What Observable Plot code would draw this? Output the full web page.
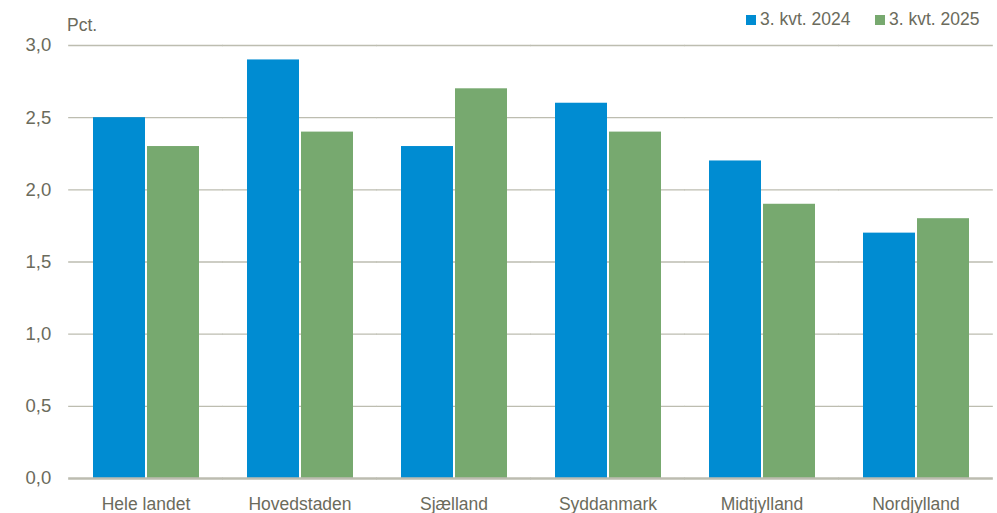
<!DOCTYPE html>
<html>
<head>
<meta charset="utf-8">
<script src="https://cdn.jsdelivr.net/npm/d3@7"></script>
<script src="https://cdn.jsdelivr.net/npm/@observablehq/plot@0.6"></script>
<style>
  html, body { margin: 0; padding: 0; background: #fff; }
  #wrap { position: relative; width: 997px; height: 513px; font-family: "Liberation Sans", Arial, sans-serif; color: #6b6b5c; }
  #legend { position: absolute; top: 9px; left: 746px; display: flex; gap: 0; font-size: 17.5px; }
  #legend span.item { display: flex; align-items: center; gap: 4px; width: 129px; }
  #legend span.sw { display: inline-block; width: 10px; height: 10px; }
  #pct { position: absolute; left: 67px; top: 15px; font-size: 17.5px; }
</style>
</head>
<body>
<div id="wrap">
  <div id="chart"></div>
  <div id="pct">Pct.</div>
  <div id="legend"></div>
</div>
<script>
const regions = ["Hele landet", "Hovedstaden", "Sjælland", "Syddanmark", "Midtjylland", "Nordjylland"];
const seriesNames = ["3. kvt. 2024", "3. kvt. 2025"];
const values2024 = [2.5, 2.9, 2.3, 2.6, 2.2, 1.7];
const values2025 = [2.3, 2.4, 2.7, 2.4, 1.9, 1.8];
const colors = ["#008cd2", "#77a96f"];
const yTicks = [0, 0.5, 1.0, 1.5, 2.0, 2.5, 3.0];

const data = [];
regions.forEach((r, i) => {
  data.push({region: r, series: seriesNames[0], value: values2024[i]});
  data.push({region: r, series: seriesNames[1], value: values2025[i]});
});

const fmt = d => d.toFixed(1).replace(".", ",");

const W = 997, ML = 69, MR = 4, PI = 0.29;
const step = (W - ML - MR) / regions.length;
const halfGap = (step * PI) / 2;
const gapInset = -halfGap - 0.5;

const chart = Plot.plot({
  width: W,
  height: 513,
  marginLeft: ML,
  marginRight: MR,
  marginTop: 45,
  marginBottom: 35,
  style: {fontFamily: '"Liberation Sans", Arial, sans-serif', fontSize: "17.5px", color: "#6b6b5c", background: "#fff"},
  fx: {domain: regions, paddingInner: PI, paddingOuter: PI / 2, label: null, axis: null},
  x: {domain: seriesNames, padding: 0, axis: null},
  y: {domain: [0, 3], ticks: yTicks, label: null, axis: null},
  color: {domain: seriesNames, range: colors},
  marks: [
    Plot.ruleY(yTicks.filter(d => d > 0), {stroke: "#bdbdb0", strokeWidth: 1.3, insetLeft: gapInset, insetRight: gapInset}),
    Plot.axisY(yTicks, {anchor: "left", tickFormat: fmt, tickSize: 0, tickPadding: 18 + halfGap, fontSize: 18.5, fill: "#6b6b5c", label: null}),
    Plot.axisFx({anchor: "bottom", tickSize: 0, tickPadding: 19, fontSize: 17.5, fill: "#6b6b5c", label: null}),
    Plot.barY(data, {fx: "region", x: "series", y: "value", fill: "series", insetLeft: 1, insetRight: 1}),
    Plot.ruleY([0], {stroke: "#bcbcb0", strokeWidth: 2.5, insetLeft: gapInset, insetRight: gapInset})
  ]
});
document.getElementById("chart").appendChild(chart);

const legend = document.getElementById("legend");
seriesNames.forEach((s, i) => {
  const item = document.createElement("span");
  item.className = "item";
  const sw = document.createElement("span");
  sw.className = "sw";
  sw.style.background = colors[i];
  item.appendChild(sw);
  item.appendChild(document.createTextNode(s));
  legend.appendChild(item);
});
</script>
</body>
</html>
